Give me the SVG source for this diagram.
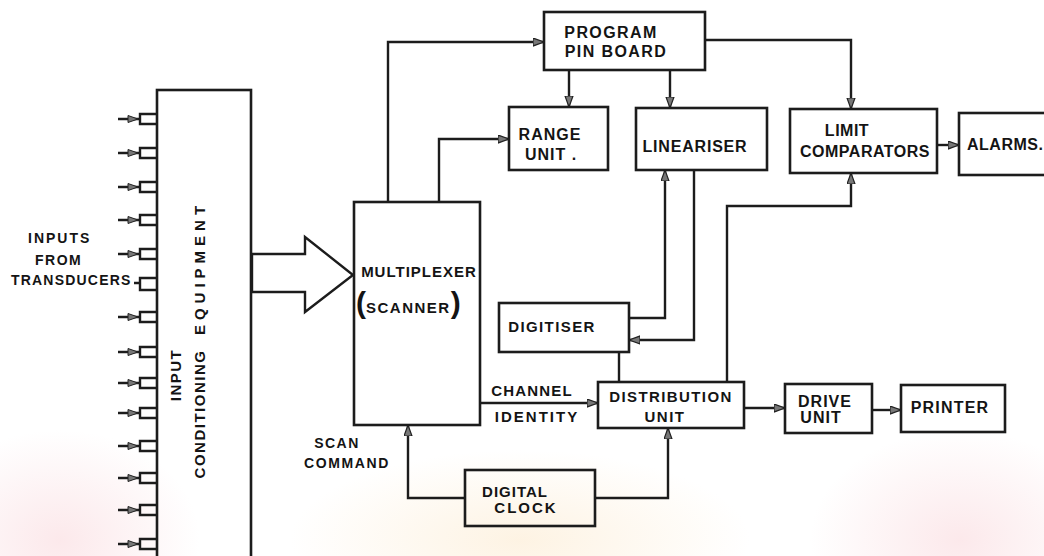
<svg xmlns="http://www.w3.org/2000/svg" width="1044" height="556" viewBox="0 0 1044 556">
<defs>
<style>
.box{fill:none;stroke:#1c1c1c;stroke-width:2.6}
.ln{fill:none;stroke:#1c1c1c;stroke-width:2.4}
.t{font-family:"Liberation Sans",Arial,sans-serif;font-weight:bold;fill:#141414;font-size:15px}
.m{text-anchor:middle}
</style>
<marker id="ah" markerUnits="userSpaceOnUse" markerWidth="12" markerHeight="10" refX="11" refY="4.5" orient="auto">
<path d="M0,0.5 L11,4.5 L0,8.5 Z" fill="#777" stroke="#222" stroke-width="1.2"/>
</marker>
<radialGradient id="g1" cx="0.5" cy="0.5" r="0.5"><stop offset="0" stop-color="#fbe3e6" stop-opacity="0.8"/><stop offset="1" stop-color="#fbe3e6" stop-opacity="0"/></radialGradient>
<radialGradient id="g2" cx="0.5" cy="0.5" r="0.5"><stop offset="0" stop-color="#fdf0dc" stop-opacity="0.8"/><stop offset="1" stop-color="#fdf0dc" stop-opacity="0"/></radialGradient>
</defs>
<rect width="1044" height="556" fill="#ffffff"/>
<g id="background">
<ellipse cx="60" cy="540" rx="140" ry="110" fill="url(#g1)"/>
<ellipse cx="520" cy="540" rx="230" ry="90" fill="url(#g2)"/>
<ellipse cx="960" cy="540" rx="150" ry="110" fill="url(#g1)"/>
</g>

<g id="connectors">
<g id="inputs">
<path class="ln" d="M118,119 H140 M157,114 H140 V124 H157"/>
<path class="ln" d="M118,153 H140 M157,148 H140 V158 H157"/>
<path class="ln" d="M118,187 H140 M157,182 H140 V192 H157"/>
<path class="ln" d="M118,220 H140 M157,215 H140 V225 H157"/>
<path class="ln" d="M118,254 H140 M157,249 H140 V259 H157"/>
<path class="ln" d="M134,283 H140 M157,278 H140 V290 H157"/>
<path class="ln" d="M118,317 H140 M157,312 H140 V322 H157"/>
<path class="ln" d="M118,352 H140 M157,347 H140 V357 H157"/>
<path class="ln" d="M118,383 H140 M157,378 H140 V388 H157"/>
<path class="ln" d="M118,413 H140 M157,408 H140 V418 H157"/>
<path class="ln" d="M118,446 H140 M157,441 H140 V451 H157"/>
<path class="ln" d="M118,478 H140 M157,473 H140 V483 H157"/>
<path class="ln" d="M118,510 H140 M157,505 H140 V515 H157"/>
<path class="ln" d="M118,544 H140 M157,539 H140 V549 H157"/>
<g fill="#777" stroke="#222" stroke-width="1">
<path d="M128,115.5 L138,119 L128,122.5 Z"/>
<path d="M128,149.5 L138,153 L128,156.5 Z"/>
<path d="M128,183.5 L138,187 L128,190.5 Z"/>
<path d="M128,216.5 L138,220 L128,223.5 Z"/>
<path d="M128,250.5 L138,254 L128,257.5 Z"/>
<path d="M128,313.5 L138,317 L128,320.5 Z"/>
<path d="M128,348.5 L138,352 L128,355.5 Z"/>
<path d="M128,379.5 L138,383 L128,386.5 Z"/>
<path d="M128,409.5 L138,413 L128,416.5 Z"/>
<path d="M128,442.5 L138,446 L128,449.5 Z"/>
<path d="M128,474.5 L138,478 L128,481.5 Z"/>
<path d="M128,506.5 L138,510 L128,513.5 Z"/>
<path d="M128,540.5 L138,544 L128,547.5 Z"/>
</g>
</g>
<polygon points="252,254 305,254 305,237 353,275 305,312 305,292 252,292" fill="#fff" stroke="#1c1c1c" stroke-width="2.4" stroke-linejoin="miter"/>
<path class="ln" d="M388,202 V42 H544" marker-end="url(#ah)"/>
<path class="ln" d="M439,202 V139 H509" marker-end="url(#ah)"/>
<path class="ln" d="M569,70 V107" marker-end="url(#ah)"/>
<path class="ln" d="M670,70 V108" marker-end="url(#ah)"/>
<path class="ln" d="M705,40 H851 V109" marker-end="url(#ah)"/>
<path class="ln" d="M937,145 H959" marker-end="url(#ah)"/>
<path class="ln" d="M629,318 H665 V170" marker-end="url(#ah)"/>
<path class="ln" d="M694,170 V340 H629" marker-end="url(#ah)"/>
<path class="ln" d="M619,352 V382"/>
<path class="ln" d="M727,382 V206 H851 V173" marker-end="url(#ah)"/>
<path class="ln" d="M480,403 H598" marker-end="url(#ah)"/>
<path class="ln" d="M744,408 H785" marker-end="url(#ah)"/>
<path class="ln" d="M872,410 H901" marker-end="url(#ah)"/>
<path class="ln" d="M465,498 H408 V425" marker-end="url(#ah)"/>
<path class="ln" d="M595,498 H668 V428" marker-end="url(#ah)"/>
</g>

<g id="input-conditioning">
<rect class="box" x="157" y="90" width="94" height="480"/>
<text class="t m" transform="translate(181,375) rotate(-90)" letter-spacing="1.5">INPUT</text>
<text class="t m" transform="translate(205,414) rotate(-90)" letter-spacing="1.5">CONDITIONING</text>
<text class="t m" transform="translate(205,268) rotate(-90)" letter-spacing="5">EQUIPMENT</text>
</g>
<g id="inputs-label">
<text class="t" x="28" y="243" letter-spacing="2" style="font-size:14px">INPUTS</text>
<text class="t" x="35" y="265" letter-spacing="1.5" style="font-size:14px">FROM</text>
<text class="t" x="11" y="285" letter-spacing="1.2" style="font-size:14px">TRANSDUCERS</text>
</g>
<g id="multiplexer">
<rect class="box" x="354" y="202" width="126" height="223"/>
<text class="t m" x="419" y="277" letter-spacing="1">MULTIPLEXER</text>
<text class="t" x="356" y="313"><tspan style="font-size:30px">(</tspan><tspan letter-spacing="1.5">SCANNER</tspan><tspan style="font-size:30px">)</tspan></text>
</g>
<g id="program-pin-board">
<rect class="box" x="544" y="12" width="161" height="58"/>
<text class="t m" x="611" y="38" style="font-size:16px" letter-spacing="1.4">PROGRAM</text>
<text class="t m" x="616" y="57" style="font-size:16px" letter-spacing="1.4">PIN BOARD</text>
</g>
<g id="range-unit">
<rect class="box" x="509" y="107" width="99" height="63"/>
<text class="t m" x="550" y="140" style="font-size:16px" letter-spacing="1">RANGE</text>
<text class="t m" x="551" y="160" style="font-size:16px" letter-spacing="1">UNIT .</text>
</g>
<g id="lineariser">
<rect class="box" x="636" y="108" width="131" height="62"/>
<text class="t m" x="695" y="152" style="font-size:16px" letter-spacing="0.8">LINEARISER</text>
</g>
<g id="limit-comparators">
<rect class="box" x="790" y="109" width="147" height="64"/>
<text class="t m" x="847" y="136" style="font-size:16px" letter-spacing="0.5">LIMIT</text>
<text class="t m" x="865" y="157" style="font-size:16px" letter-spacing="0.5">COMPARATORS</text>
</g>
<g id="alarms">
<rect class="box" x="959" y="113" width="100" height="62"/>
<text class="t" x="967" y="150" style="font-size:16px" letter-spacing="0.5">ALARMS.</text>
</g>
<g id="digitiser">
<rect class="box" x="499" y="303" width="130" height="49"/>
<text class="t m" x="552" y="332" letter-spacing="1.4">DIGITISER</text>
</g>
<g id="channel-identity">
<text class="t m" x="532" y="396" letter-spacing="1.2">CHANNEL</text>
<text class="t m" x="537" y="422" letter-spacing="2">IDENTITY</text>
</g>
<g id="distribution-unit">
<rect class="box" x="598" y="382" width="146" height="46"/>
<text class="t m" x="671" y="402" letter-spacing="1.4">DISTRIBUTION</text>
<text class="t m" x="665" y="422" letter-spacing="1.5">UNIT</text>
</g>
<g id="drive-unit">
<rect class="box" x="785" y="384" width="87" height="49"/>
<text class="t m" x="825" y="407" style="font-size:16px" letter-spacing="1">DRIVE</text>
<text class="t m" x="821" y="423" style="font-size:16px" letter-spacing="1">UNIT</text>
</g>
<g id="printer">
<rect class="box" x="901" y="385" width="104" height="47"/>
<text class="t m" x="950" y="413" style="font-size:16px" letter-spacing="1.2">PRINTER</text>
</g>
<g id="digital-clock">
<rect class="box" x="465" y="470" width="130" height="56"/>
<text class="t m" x="515" y="497" letter-spacing="1">DIGITAL</text>
<text class="t m" x="526" y="513" letter-spacing="2">CLOCK</text>
</g>
<g id="scan-command">
<text class="t m" x="337" y="448" style="font-size:14px" letter-spacing="1.5">SCAN</text>
<text class="t m" x="347" y="468" style="font-size:14px" letter-spacing="1.6">COMMAND</text>
</g>
</svg>
